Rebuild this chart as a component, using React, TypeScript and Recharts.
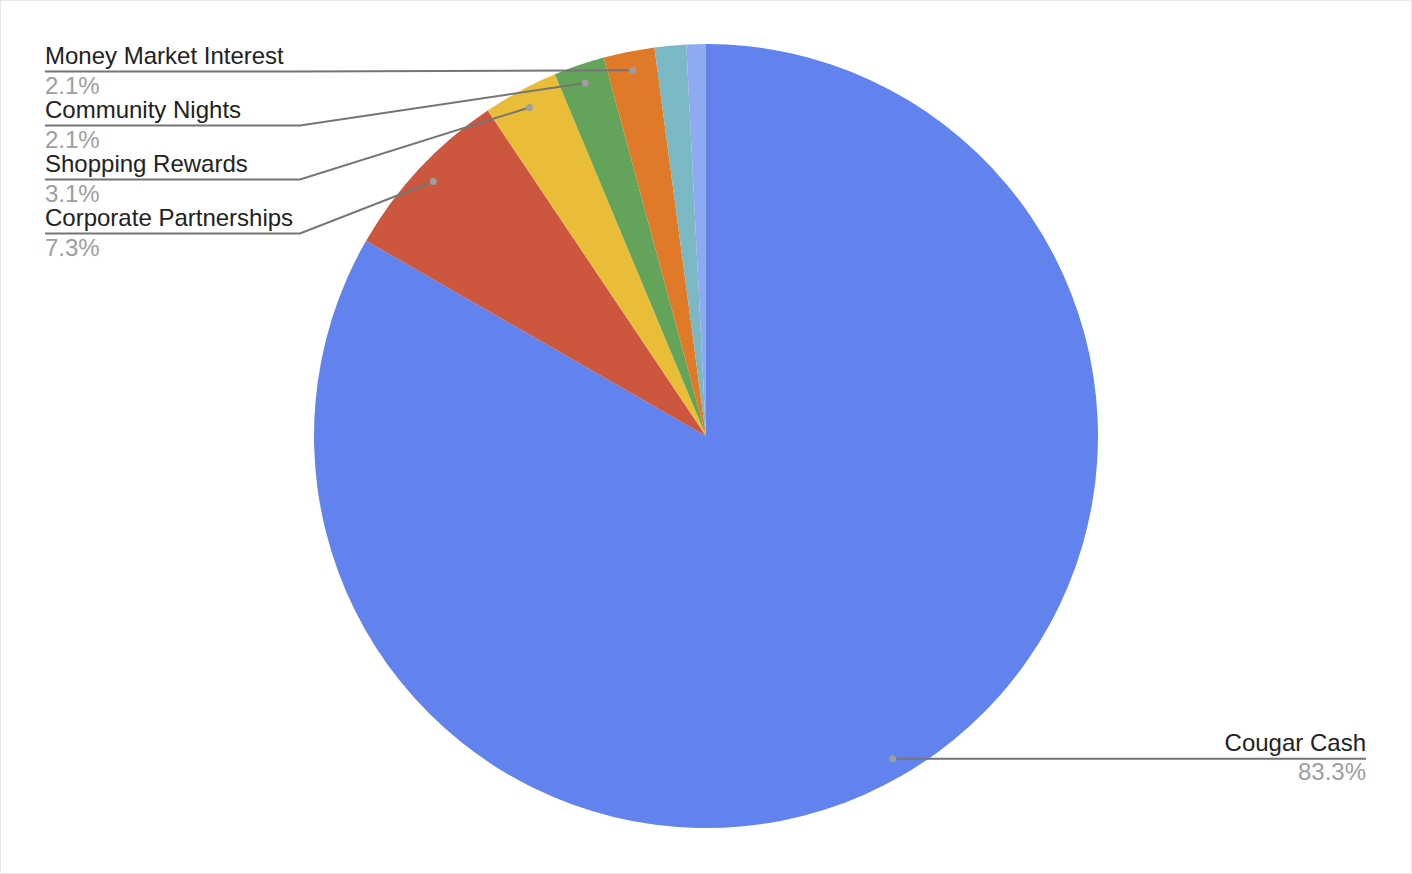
import React from "react";
import { PieChart, Pie, Cell } from "recharts";

const categories = [
  "Cougar Cash",
  "Corporate Partnerships",
  "Shopping Rewards",
  "Community Nights",
  "Money Market Interest",
  "Other",
  "Miscellaneous",
];
const values = [83.3, 7.3, 3.1, 2.1, 2.1, 1.3, 0.8];
const colors = ["#6283ee", "#cc563e", "#e9bd38", "#64a45a", "#e07a28", "#7ab8c3", "#8eaaf2"];

const data = categories.map((name, i) => ({ name, value: values[i] }));

const RAD = Math.PI / 180;
const FONT = "'Liberation Sans', Arial, sans-serif";

const renderLabel = (props: any) => {
  const { cx, cy, midAngle, index, value, name } = props;
  if (value < 2) return null;
  const ar = 373;
  const ax = cx + ar * Math.cos(-midAngle * RAD);
  const ay = cy + ar * Math.sin(-midAngle * RAD);
  const pct = value.toFixed(1) + "%";
  if (ax > cx) {
    const endX = 1366;
    return (
      <g key={`l-${index}`}>
        <polyline points={`${ax},${ay} ${endX},${ay}`} fill="none" stroke="#757575" strokeWidth={2} />
        <circle cx={ax} cy={ay} r={3.5} fill="#9e9e9e" />
        <text x={endX} y={ay - 7.5} textAnchor="end" fontFamily={FONT} fontSize={24} fill="#222222">
          {name}
        </text>
        <text x={endX} y={ay + 21.5} textAnchor="end" fontFamily={FONT} fontSize={24} fill="#9e9e9e">
          {pct}
        </text>
      </g>
    );
  }
  const slot = 4 - index;
  const lineY = 71.5 + 54 * slot;
  const startX = 45;
  const kneeX = 300;
  return (
    <g key={`l-${index}`}>
      <polyline
        points={`${startX},${lineY} ${kneeX},${lineY} ${ax},${ay}`}
        fill="none"
        stroke="#757575"
        strokeWidth={2}
      />
      <circle cx={ax} cy={ay} r={3.5} fill="#9e9e9e" />
      <text x={startX} y={lineY - 8} textAnchor="start" fontFamily={FONT} fontSize={24} fill="#222222">
        {name}
      </text>
      <text x={startX} y={lineY + 22} textAnchor="start" fontFamily={FONT} fontSize={24} fill="#9e9e9e">
        {pct}
      </text>
    </g>
  );
};

export default function App() {
  return (
    <div
      style={{
        position: "absolute",
        left: 0,
        top: 0,
        width: 1412,
        height: 874,
        background: "#ffffff",
        boxSizing: "border-box",
        border: "1px solid #e6e6e6",
      }}
    >
      <div style={{ position: "absolute", left: -1, top: -1 }}>
        <PieChart width={1412} height={874} margin={{ top: 0, right: 0, bottom: 0, left: 0 }}>
          <Pie
            data={data}
            dataKey="value"
            nameKey="name"
            cx={706}
            cy={436}
            outerRadius={392}
            innerRadius={0}
            startAngle={90}
            endAngle={-270}
            stroke="none"
            isAnimationActive={false}
            labelLine={false}
            label={renderLabel}
          >
            {data.map((d, i) => (
              <Cell key={d.name} fill={colors[i]} />
            ))}
          </Pie>
        </PieChart>
      </div>
    </div>
  );
}
